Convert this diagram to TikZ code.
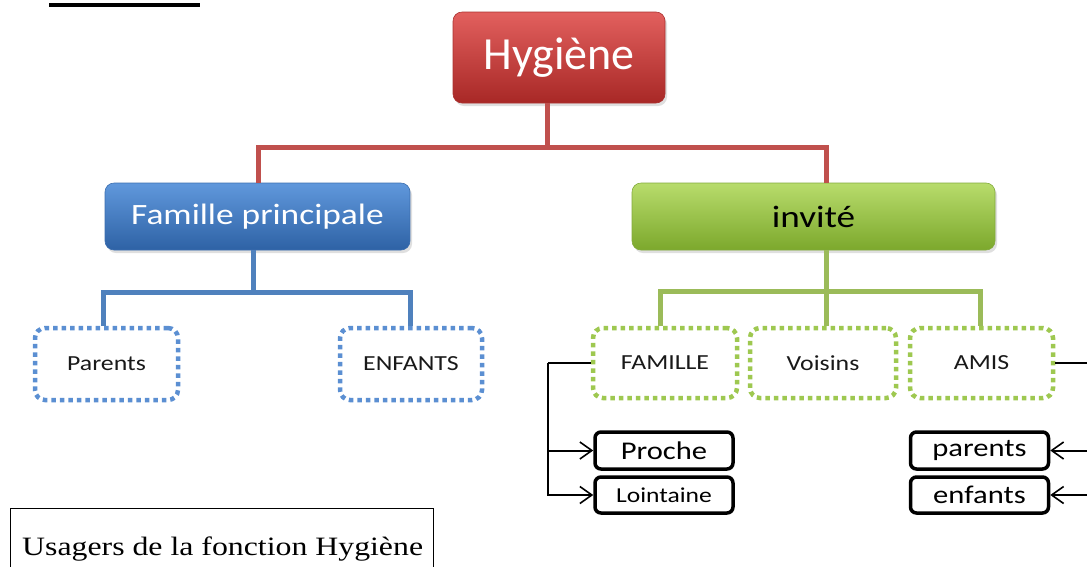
\documentclass[tikz,border=0pt]{standalone}
\usepackage{fontspec}
\setmainfont{Carlito}
\newfontfamily\widefont[FakeStretch=1.2]{Carlito}
\newfontfamily\capfont[FakeStretch=1.2]{Liberation Serif}
\usetikzlibrary{arrows.meta,shadows}
\definecolor{redline}{RGB}{192,80,77}
\definecolor{blueline}{RGB}{79,129,189}
\definecolor{greenline}{RGB}{155,187,89}
\definecolor{bluedot}{RGB}{91,143,210}
\definecolor{greendot}{RGB}{158,200,80}
\tikzset{
  topbox/.style={rounded corners=9pt, minimum width=212pt, minimum height=91pt, inner sep=0pt,
    top color={rgb,255:red,226;green,96;blue,94}, bottom color={rgb,255:red,168;green,40;blue,38},
    draw={rgb,255:red,170;green,50;blue,48}, line width=0.6pt, text=white,
    drop shadow={shadow xshift=2pt,shadow yshift=-3pt,opacity=0.25},
    font=\fontsize{46}{50}\selectfont},
  midbox/.style={rounded corners=9pt, minimum height=67pt, inner sep=0pt,
    line width=0.6pt, drop shadow={shadow xshift=2pt,shadow yshift=-3pt,opacity=0.25}},
  bluebox/.style={midbox, top color={rgb,255:red,96;green,152;blue,220}, bottom color={rgb,255:red,46;green,98;blue,165},
    draw={rgb,255:red,60;green,110;blue,175}, text=white, font=\widefont\fontsize{29.5}{32}\selectfont},
  greenbox/.style={midbox, top color={rgb,255:red,184;green,220;blue,108}, bottom color={rgb,255:red,124;green,168;blue,44},
    draw={rgb,255:red,130;green,170;blue,60}, text=black, font=\widefont\fontsize{31}{34}\selectfont},
  dotbox/.style={rounded corners=10pt, minimum height=70pt, inner sep=0pt, fill=white,
    line width=4.5pt, dash pattern=on 4.5pt off 4pt, font=\widefont\fontsize{21.5}{24}\selectfont, text={rgb,255:red,25;green,25;blue,25}},
  bdot/.style={dotbox, draw=bluedot, minimum width=143pt, minimum height=72pt},
  gdot/.style={dotbox, draw=greendot, minimum width=144pt},
  leafbox/.style={draw=black, line width=3.5pt, rounded corners=6pt, minimum width=138pt, inner sep=0pt, fill=white},
  bigleaf/.style={font=\widefont\fontsize{25.5}{28}\selectfont},
  tree/.style={line width=5pt},
  link/.style={draw=black, line width=2pt},
  tip/.style={-{Straight Barb[length=12pt,width=17pt,line width=1.6pt]}}
}
\begin{document}
\begin{tikzpicture}[x=1pt,y=-1pt]
\useasboundingbox (0,0) rectangle (1087,566);
\clip (0,0) rectangle (1087,566);
% cut heading underline
\fill[black] (49,3) rectangle (200,7);

% nodes
\node[topbox] (hyg) at (559,57.5) {Hygiène};
\node[bluebox, minimum width=305pt] (fam) at (257.5,216.5) {Famille principale};
\node[greenbox, minimum width=363pt] (inv) at (813.5,216.5) {invité};

% junctions
\coordinate (rj) at (547,147);
\coordinate (rl) at (258,147);
\coordinate (rr) at (826,147);
\coordinate (bj) at (253,292);
\coordinate (gj) at (826,291);
\coordinate (lb) at (548,363);
\coordinate (rb) at (1093,363);

% red connectors
\draw[tree, redline] (hyg.south -| rj) -- (rj);
\draw[tree, redline, line cap=rect] (rl) -- (rr);
\draw[tree, redline] (rl) -- (fam.north -| rl);
\draw[tree, redline] (rr) -- (inv.north -| rr);

% second level
\node[bdot] (par) at (106.5,364) {Parents};
\node[bdot, minimum width=142pt] (enf) at (411,364) {ENFANTS};
\node[gdot] (fml) at (665,363) {FAMILLE};
\node[gdot, minimum width=146pt] (voi) at (823,363) {Voisins};
\node[gdot, minimum width=143pt] (ami) at (981.5,363) {AMIS};

\coordinate (b1) at (103,292);
\coordinate (b2) at (410,292);
\coordinate (g1) at (660,291);
\coordinate (g3) at (980,291);

% blue connectors
\draw[tree, blueline] (fam.south -| bj) -- (bj);
\draw[tree, blueline, line cap=rect] (b1) -- (b2);
\draw[tree, blueline] (b1) -- (par.north -| b1);
\draw[tree, blueline] (b2) -- (enf.north -| b2);

% green connectors
\draw[tree, greenline] (inv.south -| gj) -- (gj);
\draw[tree, greenline, line cap=rect] (g1) -- (g3);
\draw[tree, greenline] (g1) -- (fml.north -| g1);
\draw[tree, greenline] (gj) -- (voi.north -| gj);
\draw[tree, greenline] (g3) -- (ami.north -| g3);

% leaf boxes
\node[leafbox, bigleaf, minimum height=37pt] (pro) at (664,450.5) {Proche};
\node[leafbox, minimum height=36pt, font=\widefont\fontsize{21.3}{24}\selectfont] (loi) at (664,495) {Lointaine};
\node[leafbox, bigleaf, minimum height=37pt] (pab) at (979.5,450.5) {parents};
\node[leafbox, bigleaf, minimum height=36pt] (enb) at (979.5,495) {enfants};

% black links
\draw[link] (fml.west) -- (lb);
\draw[link, tip] (lb) |- (pro.west);
\draw[link, tip] (lb) |- (loi.west);
\draw[link] (ami.east) -- (rb);
\draw[link, tip] (rb) |- (pab.east);
\draw[link, tip] (rb) |- (enb.east);

% caption
\node[draw=black, line width=1.2pt, minimum width=423pt, minimum height=66pt, anchor=north west,
  inner sep=0pt] (cap) at (10,508) {};
\node[font=\capfont\fontsize{26.5}{30}\selectfont, anchor=base west, inner sep=0pt] (captxt) at (22,555) {Usagers de la fonction Hygiène};
\end{tikzpicture}
\end{document}
